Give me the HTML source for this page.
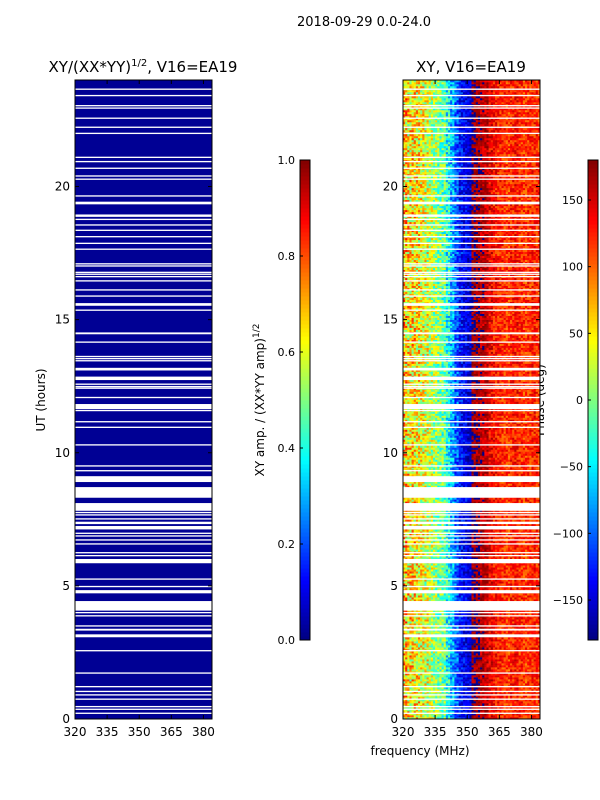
<!DOCTYPE html>
<html><head><meta charset="utf-8"><style>
body{margin:0;background:#fff;width:600px;height:800px;overflow:hidden;font-family:"Liberation Sans","DejaVu Sans",sans-serif}
</style></head><body>
<svg id="fig" width="600" height="800" xmlns="http://www.w3.org/2000/svg" style="position:absolute;left:0;top:0;font-family:'DejaVu Sans','Liberation Sans',sans-serif">
<text x="364" y="26" font-size="13" text-anchor="middle">2018-09-29 0.0-24.0</text>
<text x="143" y="72" font-size="15" text-anchor="middle">XY/(XX*YY)<tspan font-size="10" dy="-6">1/2</tspan><tspan dy="6">, V16=EA19</tspan></text>
<text x="471" y="72" font-size="15" text-anchor="middle">XY, V16=EA19</text>
<text x="420" y="755" font-size="12" text-anchor="middle">frequency (MHz)</text>
<text x="45" y="400" font-size="12" text-anchor="middle" transform="rotate(-90 45 400)">UT (hours)</text>
<text x="264" y="400" font-size="12" text-anchor="middle" transform="rotate(-90 264 400)">XY amp. / (XX*YY amp)<tspan font-size="9" dy="-5">1/2</tspan></text>
<text x="544" y="400" font-size="12" text-anchor="middle" transform="rotate(-90 544 400)">Phase (deg)</text>
<g id="marks"></g>
</svg>
<script>
const flagged = [[23.63,23.68],[23.39,23.44],[23.01,23.06],[22.92,22.97],[22.54,22.59],[22.2,22.25],[21.97,22.02],[21.07,21.12],[20.91,20.96],[20.66,20.71],[20.37,20.42],[20.25,20.3],[19.62,19.67],[19.33,19.43],[18.86,18.95],[18.74,18.79],[18.53,18.58],[18.33,18.38],[18.09,18.14],[17.84,17.89],[17.62,17.67],[17.07,17.12],[16.99,17.04],[16.75,16.8],[16.68,16.73],[16.59,16.64],[16.43,16.48],[16.09,16.14],[15.86,15.91],[15.52,15.62],[15.33,15.38],[14.45,14.52],[14.13,14.18],[13.59,13.64],[13.51,13.56],[13.43,13.48],[13.09,13.19],[12.73,12.86],[12.55,12.6],[12.46,12.51],[12.4,12.45],[12.05,12.1],[11.64,11.83],[11.56,11.61],[11.14,11.19],[10.93,10.98],[10.27,10.32],[9.48,9.53],[9.3,9.35],[8.9,9.12],[8.31,8.71],[7.82,8.11],[7.73,7.78],[7.64,7.69],[7.49,7.54],[7.32,7.41],[7.12,7.25],[6.95,7.0],[6.85,6.9],[6.7,6.75],[6.55,6.6],[6.22,6.27],[6.11,6.16],[5.85,6.01],[5.23,5.28],[4.95,5.0],[4.72,4.84],[4.07,4.43],[3.97,4.02],[3.85,3.9],[3.47,3.52],[3.32,3.39],[3.07,3.18],[2.54,2.59],[1.7,1.75],[1.19,1.24],[1.01,1.06],[0.88,0.93],[0.72,0.77],[0.44,0.49],[0.34,0.39],[0.19,0.24]];
const phaseFreqs = [320,322,324,326,328,330,332,334,336,338,340,342,344,346,348,350,352,354,356,358,360,362,364,366,368,370,372,374,376,378,380,382];
const phaseMean = [60,50,55,45,40,30,20,10,0,-10,-40,-70,-100,-130,-140,-150,175,170,160,155,140,130,125,120,115,125,130,120,115,120,125,120];
const phaseSpread = [70,70,65,65,60,60,55,55,55,50,50,45,40,35,30,30,25,25,25,25,30,30,30,30,30,30,30,30,30,30,30,30];
const ampValue = 0.02;
const xTicks = [320,335,350,365,380];
const yTicks = [0,5,10,15,20];
const ampTicks = [0.0,0.2,0.4,0.6,0.8,1.0];
const phaseTicks = [-150,-100,-50,0,50,100,150];

const NS="http://www.w3.org/2000/svg";
const g=document.getElementById('marks');
function mk(t,a,p){const e=document.createElementNS(NS,t);for(const k in a)e.setAttribute(k,a[k]);(p||g).appendChild(e);return e;}
function jet(v){v=Math.max(0,Math.min(1,v));
 const r=Math.max(0,Math.min(1,1.5-Math.abs(4*v-3))),gg=Math.max(0,Math.min(1,1.5-Math.abs(4*v-2))),b=Math.max(0,Math.min(1,1.5-Math.abs(4*v-1)));
 return 'rgb('+Math.round(r*255)+','+Math.round(gg*255)+','+Math.round(b*255)+')';}
const panels=[{x0:75,name:'amp'},{x0:403,name:'phase'}];
const PW=137,PY0=80,PY1=719;
const fx=(x0,f)=>x0+(f-320)/64*PW;
const fy=h=>PY1-h/24*(PY1-PY0);
function isFlag(h){return flagged.some(r=>h>=r[0]&&h<=r[1]);}
// left panel: amplitude
mk('rect',{x:75,y:PY0,width:PW,height:PY1-PY0,fill:jet(ampValue),});
// right panel phase heatmap on canvas-like svg rects
function hsh(i,j){let n=(i*374761393+j*668265263)|0;n=(n^(n>>>13))*1274126177|0;return ((n^(n>>>16))>>>0)/4294967295;}
const hm=mk('g',{});
const rows=320,rh=24/rows;
for(let j=0;j<rows;j++){const h=j*rh;
 for(let c=0;c<phaseFreqs.length;c++){for(let s=0;s<2;s++){
  const f=phaseFreqs[c]+s;
  let p=phaseMean[c]+(hsh(c*2+s,j)-0.5)*2*phaseSpread[c];
  if(p>180)p-=360;if(p<-180)p+=360;
  const r=mk('rect',{x:fx(403,f).toFixed(2),y:fy(h+rh).toFixed(2),width:(PW/64+0.3).toFixed(2),height:(rh/24*639+0.3).toFixed(2),fill:jet((p+180)/360)},hm);
 }}}
// flagged rows (white)
panels.forEach(P=>{flagged.forEach(r=>{
 const e=mk('rect',{x:P.x0,y:fy(r[1]),width:PW,height:Math.max(1.3,fy(r[0])-fy(r[1])),fill:'#fff'});
 
 
});});
// axes
panels.forEach(P=>{
 mk('rect',{x:P.x0,y:PY0,width:PW,height:PY1-PY0,fill:'none',stroke:'#000','stroke-width':1,});
 xTicks.forEach(t=>{const x=fx(P.x0,t);
  mk('line',{x1:x,x2:x,y1:PY1,y2:PY1-4,stroke:'#000'});mk('line',{x1:x,x2:x,y1:PY0,y2:PY0+4,stroke:'#000'});
  const e=mk('text',{x:x,y:PY1+17,'font-size':12,'text-anchor':'middle'});e.textContent=t;
  });
 yTicks.forEach(t=>{const y=fy(t);
  mk('line',{x1:P.x0,x2:P.x0+4,y1:y,y2:y,stroke:'#000'});mk('line',{x1:P.x0+PW,x2:P.x0+PW-4,y1:y,y2:y,stroke:'#000'});
  const e=mk('text',{x:P.x0-5,y:y+4,'font-size':12,'text-anchor':'end'});e.textContent=t;
  });
});
// colorbars
function cbar(x,lo,hi,ticks,name,fmt){
 const cg=mk('g',{});
 const N=120,Y0=160,Y1=640;
 for(let i=0;i<N;i++){mk('rect',{x:x,y:Y1-(i+1)*(Y1-Y0)/N,width:10,height:(Y1-Y0)/N+0.5,fill:jet((i+0.5)/N)},cg);}
 mk('rect',{x:x,y:Y0,width:10,height:Y1-Y0,fill:'none',stroke:'#000'},cg);
 ticks.forEach(t=>{const y=Y1-(t-lo)/(hi-lo)*(Y1-Y0);
  mk('line',{x1:x,x2:x+3,y1:y,y2:y,stroke:'#000'},cg);
  const e=mk('text',{x:x-5,y:y+4,'font-size':11,'text-anchor':'end'},cg);e.textContent=fmt(t);
  });
}
cbar(300,0,1,ampTicks,'amp-colorbar',t=>t.toFixed(1));
cbar(588,-180,180,phaseTicks,'phase-colorbar',t=>t<0?'\u2212'+(-t):String(t));
</script>
</body></html>
